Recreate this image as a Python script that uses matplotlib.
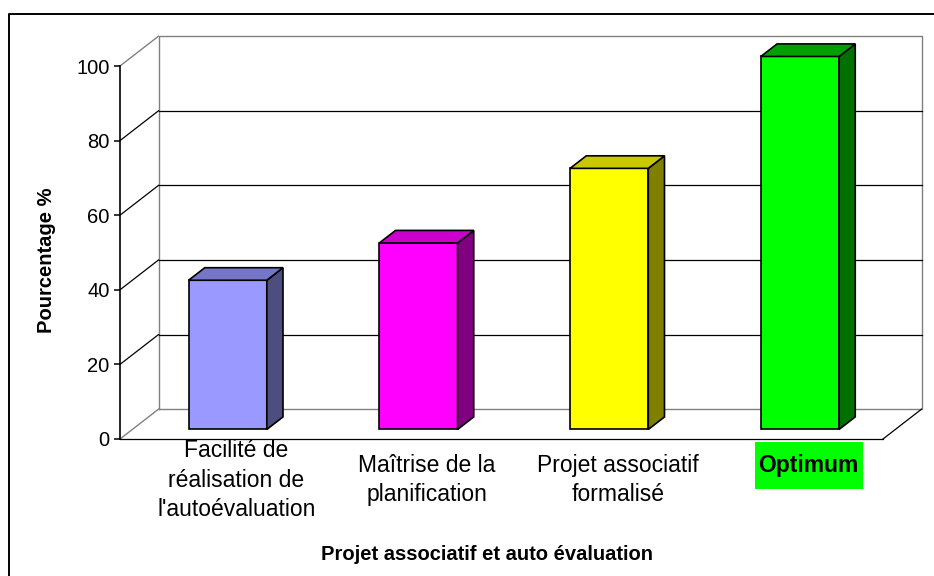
import matplotlib.pyplot as plt
from matplotlib.lines import Line2D
from matplotlib.patches import Rectangle
from matplotlib.transforms import blended_transform_factory

plt.rcParams["font.family"] = ["Liberation Sans", "DejaVu Sans"]

# data
categories = [
    "Facilité de\nréalisation de\nl'autoévaluation",
    "Maîtrise de la\nplanification",
    "Projet associatif\nformalisé",
    "Optimum",
]
values = [40, 50, 70, 100]
highlight = [False, False, False, True]
front_colors = ["#9999FF", "#FF00FF", "#FFFF00", "#00FF00"]
top_colors = ["#7676C8", "#CC00CC", "#C8C800", "#00A000"]
side_colors = ["#4D4D80", "#800080", "#808000", "#007000"]
yticks = [0, 20, 40, 60, 80, 100]
ylabel = "Pourcentage %"
xlabel = "Projet associatif et auto évaluation"

W, H = 934, 576
fig = plt.figure(figsize=(W / 100, H / 100), dpi=100)
ax = fig.add_axes([120 / W, (H - 439) / H, 763 / W, 373 / H])
n = len(categories)
ax.set_xlim(0, n)
ax.set_ylim(0, 100)
ax.patch.set_visible(False)

# depth of the fake 3D box (data units)
DX, DY = 0.202, 8.0

wall = dict(color="#808080", lw=1.0, clip_on=False, zorder=1)
grid = dict(color="black", lw=0.9, clip_on=False, zorder=1)

# back wall outline
ax.plot([DX, DX, n + DX, n + DX, DX], [DY, 100 + DY, 100 + DY, DY, DY], **wall)
for v in yticks:
    if 0 < v < 100:
        ax.plot([0, DX], [v, v + DY], **grid)
        ax.plot([DX, n + DX], [v + DY, v + DY], **grid)
    else:
        ax.plot([0, DX], [v, v + DY], **wall)
# floor front and right edge
ax.plot([0, n], [0, 0], **grid)
ax.plot([n, n + DX], [0, DY], **grid)

# bars
d0, d1 = 0.32, 0.74
bw = 0.41
ddx, ddy = (d1 - d0) * DX, (d1 - d0) * DY
for i, (v, fc, tc, sc) in enumerate(zip(values, front_colors, top_colors, side_colors)):
    x0 = i + 0.5 - bw / 2 + d0 * DX
    x1 = x0 + bw
    y0 = d0 * DY
    y1 = v + d0 * DY
    edge = dict(ec="black", lw=1.2, clip_on=False, zorder=3)
    ax.fill([x0, x1, x1, x0], [y0, y0, y1, y1], fc=fc, **edge)
    ax.fill([x1, x1 + ddx, x1 + ddx, x1], [y0, y0 + ddy, y1 + ddy, y1], fc=sc, **edge)
    ax.fill([x0, x1, x1 + ddx, x0 + ddx], [y1, y1, y1 + ddy, y1 + ddy], fc=tc, **edge)

# axis styling
for side in ["top", "right", "bottom"]:
    ax.spines[side].set_visible(False)
ax.spines["left"].set_linewidth(1.2)
ax.spines["left"].set_zorder(4)
ax.set_xticks([])
ax.set_yticks(yticks)
ax.tick_params(axis="y", direction="out", length=4.5, width=1.1, labelsize=14.5, pad=3)

# category labels
trans = blended_transform_factory(ax.transData, ax.transAxes)
for i, (lab, hl) in enumerate(zip(categories, highlight)):
    xc = i + 0.5 + 0.11
    if hl:
        ax.add_patch(Rectangle((xc - 0.283, -0.134), 0.566, 0.126, transform=trans,
                               fc="#00FF00", ec="none", clip_on=False))
        ax.text(xc, -0.072, lab, transform=trans, ha="center", va="center",
                fontsize=16.5, fontweight="bold")
    else:
        ax.text(xc, -0.11, lab, transform=trans, ha="center", va="center",
                fontsize=16.5, linespacing=1.38)

fig.text(47 / W, 1 - 260 / H, ylabel, rotation=90, ha="center", va="center",
         fontsize=14.5, fontweight="bold")
fig.text(487 / W, 1 - 555 / H, xlabel, ha="center", va="center",
         fontsize=14.5, fontweight="bold")

# chart area border
fig.add_artist(Line2D([9 / W, 9 / W, 1.0], [0.0, 1 - 14 / H, 1 - 14 / H],
                      transform=fig.transFigure, color="black", lw=1.4))

fig.savefig("out.png", dpi=100)
